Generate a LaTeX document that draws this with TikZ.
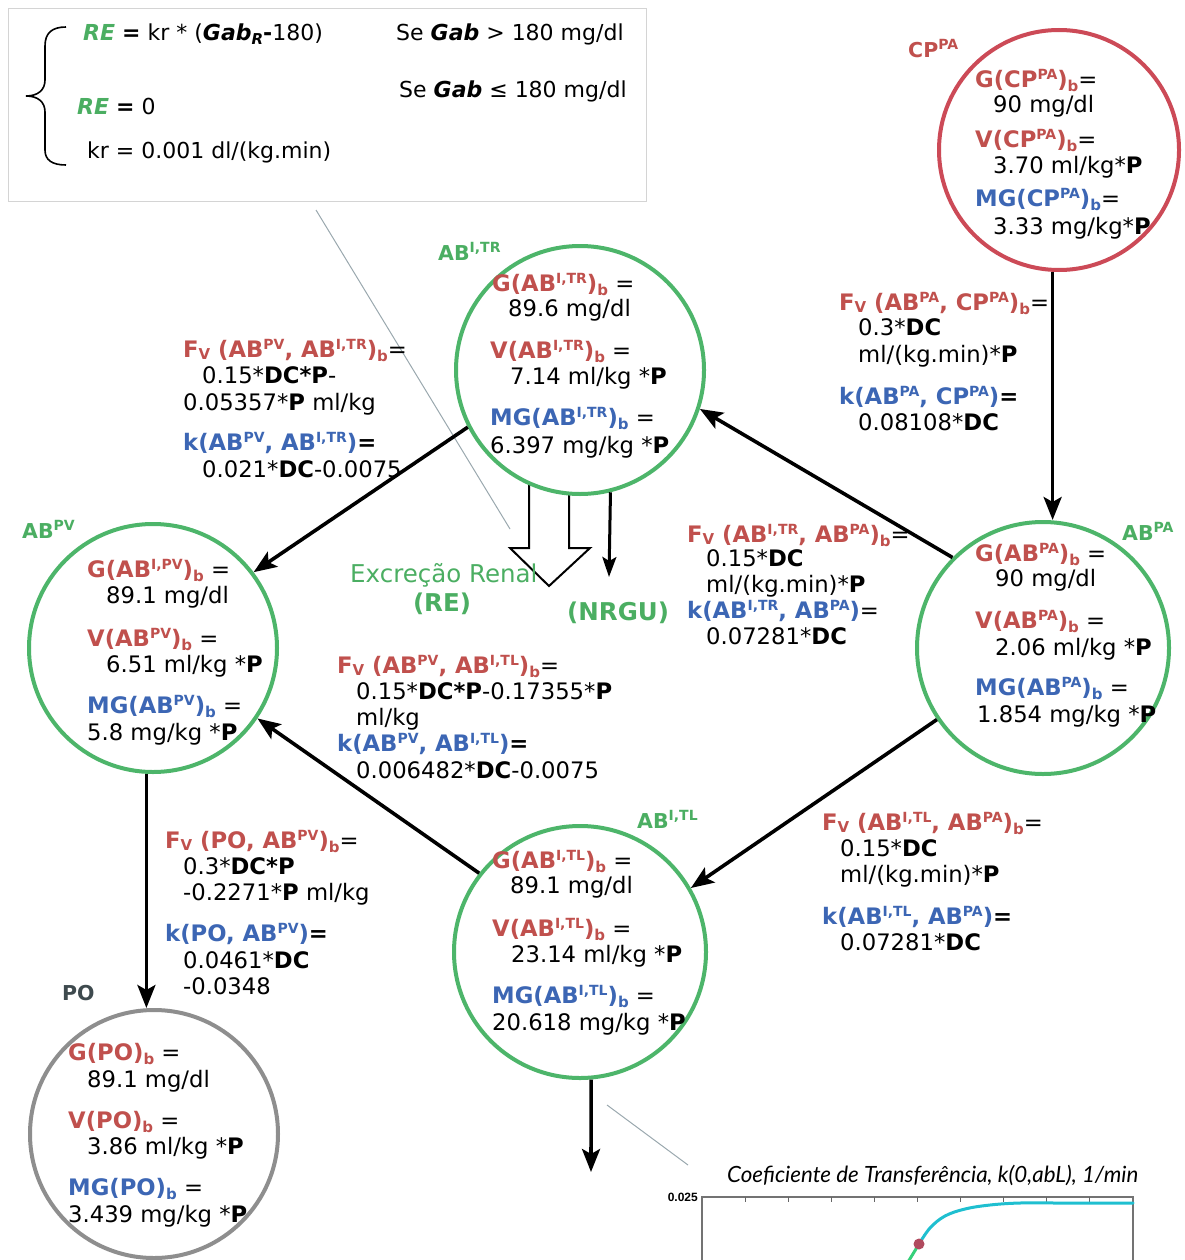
\documentclass[tikz,border=0pt]{standalone}
\usepackage{fontspec}
\setmainfont{DejaVu Sans}
\newfontfamily\chartfont{Lato}
\newfontfamily\axisfont{Liberation Sans}
\usetikzlibrary{arrows.meta}

\definecolor{rd}{HTML}{C0504D}
\definecolor{bl}{HTML}{3C66B4}
\definecolor{gn}{HTML}{4BAE62}
\definecolor{ringG}{HTML}{4DB56A}
\definecolor{ringR}{HTML}{CC4A57}
\definecolor{ringP}{HTML}{8E8E8E}
\definecolor{poLab}{HTML}{3E4A4E}
\definecolor{lead}{HTML}{9AA8AE}
\definecolor{boxgray}{HTML}{D4D4D4}
\definecolor{curveC}{HTML}{1FBFD0}
\definecolor{curveG}{HTML}{35D07A}
\definecolor{dotR}{HTML}{B04A5E}

% superscript / subscript / flow symbol
\newcommand{\supx}[1]{\raisebox{8pt}{\fontsize{14}{14}\selectfont #1}}
\newcommand{\subx}[1]{\raisebox{-4pt}{\fontsize{15}{15}\selectfont #1}}
\newcommand{\FV}{F\raisebox{-2pt}{\fontsize{15}{15}\selectfont V}}
\newcommand{\redb}[1]{{\color{rd}\bfseries #1}}
\newcommand{\blub}[1]{{\color{bl}\bfseries #1}}

\tikzset{
  txt/.style={anchor=base west, inner sep=0pt, font=\fontsize{22.7}{26}\selectfont},
  boxtxt/.style={anchor=base west, inner sep=0pt, font=\fontsize{22}{26}\selectfont},
  outtxt/.style={anchor=base west, inner sep=0pt, text=gn, font=\fontsize{24.5}{28}\selectfont},
  lab/.style={anchor=base west, inner sep=0pt, font=\fontsize{20.5}{24}\selectfont\bfseries},
  ring/.style={circle, draw, line width=4pt, fill=white, inner sep=0pt},
  gring/.style={ring, draw=ringG},
  arr/.style={line width=3.6pt, -{Stealth[length=23pt,width=18pt,inset=5pt]}},
  thinarr/.style={line width=3pt, -{Stealth[length=20pt,width=14pt,inset=4pt]}},
  leader/.style={draw=lead, line width=1pt},
  hollow/.style={draw=black, line width=2pt, fill=white, line join=miter},
}

\begin{document}
\begin{tikzpicture}[x=1pt,y=-1pt]
\useasboundingbox (0,0) rectangle (1184,1260);

% ---- condition box for renal excretion
\node[draw=boxgray, line width=1.2pt, anchor=north west, minimum width=638pt, minimum height=193pt, inner sep=0pt] (cbox) at (8,8) {};
\draw[line width=1.6pt] (66,27) .. controls (52,27) and (45,33) .. (45,46) -- (45,80)
  .. controls (45,90) and (38,96) .. (26,96) .. controls (38,96) and (45,102) .. (45,112)
  -- (45,150) .. controls (45,160) and (52,165) .. (66,165);
\node[boxtxt] (re1) at (83,41) {{\color{gn}\bfseries\itshape RE} \textbf{=} kr * (\textbf{\itshape Gab}\subx{\bfseries\itshape R}\textbf{-}180)};
\node[boxtxt] (se1) at (396,41) {Se \textbf{\itshape Gab} > 180 mg/dl};
\node[boxtxt] (se2) at (399,98) {Se \textbf{\itshape Gab} ≤ 180 mg/dl};
\node[boxtxt] (re2) at (77,115) {{\color{gn}\bfseries\itshape RE} \textbf{=} 0};
\node[boxtxt] (kr) at (87,159) {kr = 0.001 dl/(kg.min)};

% ---- leader lines
\coordinate (ldA) at (316,210);
\coordinate (ldB) at (510,529);
\coordinate (ldC) at (607,1105);
\coordinate (ldD) at (688,1165);
\draw[leader] (ldA) -- (ldB);
\draw[leader] (ldC) -- (ldD);

% ---- renal excretion (hollow arrow)
\draw[hollow] (529,470) -- (529,548) -- (510,548) -- (549,586) -- (590,548) -- (569,548) -- (569,470);

% ---- compartments
\node[ring, draw=ringR, minimum size=240pt] (cp) at (1059,150) {};
\node[gring, minimum size=248pt] (tr) at (580,370) {};
\node[gring, minimum size=248pt] (pv) at (153,648) {};
\node[gring, minimum size=252pt] (pa) at (1043,648) {};
\node[gring, minimum size=252pt] (tl) at (580,952) {};
\node[ring, draw=ringP, minimum size=248pt] (po) at (154,1134) {};

% ---- flows
\coordinate (nrguEnd) at (609,577);
\coordinate (tlEnd) at (591,1172);
\draw[arr] (cp.-93.3) -- (cp.-93.3 |- pa.north);
\draw[arr] (pa.135) -- (tr.-18);
\draw[arr] (tr.207) -- (pv.37);
\draw[arr] (pa.214) -- (tl.30);
\draw[arr] (tl.142) -- (pv.-34);
\draw[arr] (pv.-93.6) -- (pv.-93.6 |- po.north);
\draw[arr] (tl.-85) -- (tlEnd);
\draw[thinarr] (tr.-76.8) -- (nrguEnd);

% ---- compartment names
\node[lab, text=rd] (cplab) at (908,58) {CP\supx{PA}};
\node[lab, text=gn] (trlab) at (438,260) {AB\supx{I,TR}};
\node[lab, text=gn] (pvlab) at (22,538) {AB\supx{PV}};
\node[lab, text=gn] (palab) at (1122,540) {AB\supx{PA}};
\node[lab, text=gn] (tllab) at (637,828) {AB\supx{I,TL}};
\node[lab, text=poLab] (polab) at (62,1000) {PO};

% ---- CP^PA contents
\node[txt] (cp1) at (975,88) {\redb{G(CP\supx{PA})\subx{b}}=};
\node[txt] (cp2) at (993,113) {90 mg/dl};
\node[txt] (cp3) at (975,148) {\redb{V(CP\supx{PA})\subx{b}}=};
\node[txt] (cp4) at (993,174) {3.70 ml/kg*\textbf{P}};
\node[txt] (cp5) at (975,207) {\blub{MG(CP\supx{PA})\subx{b}}=};
\node[txt] (cp6) at (993,234) {3.33 mg/kg*\textbf{P}};

% ---- AB^I,TR contents
\node[txt] (tr1) at (492,291) {\redb{G(AB\supx{I,TR})\subx{b}} =};
\node[txt] (tr2) at (508,316) {89.6 mg/dl};
\node[txt] (tr3) at (490,358) {\redb{V(AB\supx{I,TR})\subx{b}} =};
\node[txt] (tr4) at (510,384) {7.14 ml/kg *\textbf{P}};
\node[txt] (tr5) at (490,425) {\blub{MG(AB\supx{I,TR})\subx{b}} =};
\node[txt] (tr6) at (490,453) {6.397 mg/kg *\textbf{P}};

% ---- AB^PV contents
\node[txt] (pv1) at (87,577) {\redb{G(AB\supx{I,PV})\subx{b}} =};
\node[txt] (pv2) at (106,603) {89.1 mg/dl};
\node[txt] (pv3) at (87,646) {\redb{V(AB\supx{PV})\subx{b}} =};
\node[txt] (pv4) at (106,672) {6.51 ml/kg *\textbf{P}};
\node[txt] (pv5) at (87,713) {\blub{MG(AB\supx{PV})\subx{b}} =};
\node[txt] (pv6) at (87,740) {5.8 mg/kg *\textbf{P}};

% ---- AB^PA contents
\node[txt] (pa1) at (975,561) {\redb{G(AB\supx{PA})\subx{b}} =};
\node[txt] (pa2) at (995,586) {90 mg/dl};
\node[txt] (pa3) at (975,628) {\redb{V(AB\supx{PA})\subx{b}} =};
\node[txt] (pa4) at (995,655) {2.06 ml/kg *\textbf{P}};
\node[txt] (pa5) at (975,695) {\blub{MG(AB\supx{PA})\subx{b}} =};
\node[txt] (pa6) at (977,722) {1.854 mg/kg *\textbf{P}};

% ---- AB^I,TL contents
\node[txt] (tl1) at (492,868) {\redb{G(AB\supx{I,TL})\subx{b}} =};
\node[txt] (tl2) at (510,893) {89.1 mg/dl};
\node[txt] (tl3) at (492,936) {\redb{V(AB\supx{I,TL})\subx{b}} =};
\node[txt] (tl4) at (511,962) {23.14 ml/kg *\textbf{P}};
\node[txt] (tl5) at (492,1003) {\blub{MG(AB\supx{I,TL})\subx{b}} =};
\node[txt] (tl6) at (492,1030) {20.618 mg/kg *\textbf{P}};

% ---- PO contents
\node[txt] (po1) at (68,1060) {\redb{G(PO)\subx{b}} =};
\node[txt] (po2) at (87,1087) {89.1 mg/dl};
\node[txt] (po3) at (68,1128) {\redb{V(PO)\subx{b}} =};
\node[txt] (po4) at (87,1154) {3.86 ml/kg *\textbf{P}};
\node[txt] (po5) at (68,1195) {\blub{MG(PO)\subx{b}} =};
\node[txt] (po6) at (68,1222) {3.439 mg/kg *\textbf{P}};

% ---- flow parameters: AB^PV <- AB^I,TR
\node[txt] (a1) at (183,357) {\redb{\FV\ (AB\supx{PV}, AB\supx{I,TR})\subx{b}}=};
\node[txt] (a2) at (202,383) {0.15*\textbf{DC*P}-};
\node[txt] (a3) at (183,410) {0.05357*\textbf{P} ml/kg};
\node[txt] (a4) at (183,450) {\blub{k(AB\supx{PV}, AB\supx{I,TR})}\textbf{=}};
\node[txt] (a5) at (202,477) {0.021*\textbf{DC}-0.0075};

% ---- AB^PA <- CP^PA
\node[txt] (b1) at (839,310) {\redb{\FV\ (AB\supx{PA}, CP\supx{PA})\subx{b}}=};
\node[txt] (b2) at (858,335) {0.3*\textbf{DC}};
\node[txt] (b3) at (858,362) {ml/(kg.min)*\textbf{P}};
\node[txt] (b4) at (839,404) {\blub{k(AB\supx{PA}, CP\supx{PA})}\textbf{=}};
\node[txt] (b5) at (858,430) {0.08108*\textbf{DC}};

% ---- AB^I,TR <- AB^PA
\node[txt] (c1) at (687,542) {\redb{\FV\ (AB\supx{I,TR}, AB\supx{PA})\subx{b}}=};
\node[txt] (c2) at (706,566) {0.15*\textbf{DC}};
\node[txt] (c3) at (706,592) {ml/(kg.min)*\textbf{P}};
\node[txt] (c4) at (687,618) {\blub{k(AB\supx{I,TR}, AB\supx{PA})}=};
\node[txt] (c5) at (706,644) {0.07281*\textbf{DC}};

% ---- AB^PV <- AB^I,TL
\node[txt] (d1) at (337,673) {\redb{\FV\ (AB\supx{PV}, AB\supx{I,TL})\subx{b}}=};
\node[txt] (d2) at (356,699) {0.15*\textbf{DC*P}-0.17355*\textbf{P}};
\node[txt] (d3) at (356,725) {ml/kg};
\node[txt] (d4) at (337,751) {\blub{k(AB\supx{PV}, AB\supx{I,TL})}\textbf{=}};
\node[txt] (d5) at (356,778) {0.006482*\textbf{DC}-0.0075};

% ---- AB^I,TL <- AB^PA
\node[txt] (f1) at (822,830) {\redb{\FV\ (AB\supx{I,TL}, AB\supx{PA})\subx{b}}=};
\node[txt] (f2) at (840,856) {0.15*\textbf{DC}};
\node[txt] (f3) at (840,882) {ml/(kg.min)*\textbf{P}};
\node[txt] (f4) at (822,924) {\blub{k(AB\supx{I,TL}, AB\supx{PA})}\textbf{=}};
\node[txt] (f5) at (840,950) {0.07281*\textbf{DC}};

% ---- PO <- AB^PV
\node[txt] (g1) at (165,848) {\redb{\FV\ (PO, AB\supx{PV})\subx{b}}=};
\node[txt] (g2) at (183,874) {0.3*\textbf{DC*P}};
\node[txt] (g3) at (183,900) {-0.2271*\textbf{P} ml/kg};
\node[txt] (g4) at (165,941) {\blub{k(PO, AB\supx{PV})}\textbf{=}};
\node[txt] (g5) at (183,968) {0.0461*\textbf{DC}};
\node[txt] (g6) at (183,994) {-0.0348};

% ---- outflow labels
\node[outtxt] (renal) at (350,582) {Excreção Renal};
\node[outtxt, anchor=base, font=\fontsize{24.5}{28}\selectfont\bfseries] (rel) at (442,611) {(RE)};
\node[outtxt, font=\fontsize{24.5}{28}\selectfont\bfseries] (nrgu) at (567,620) {(NRGU)};

% ---- transfer coefficient chart
\node[anchor=base west, inner sep=0pt] (ctitle) at (727,1182)
  {\resizebox{411pt}{!}{\fontsize{20}{24}\chartfont\itshape Coeficiente de Transferência, k(0,abL), 1/min}};
\node[anchor=base east, inner sep=0pt, font=\fontsize{12}{14}\axisfont\bfseries] (ytop) at (698,1201) {0.025};
\draw[draw=black!55, line width=1.2pt] (702,1262) -- (702,1197) -- (1133,1197) -- (1133,1262);
\foreach \i in {1,...,9} \draw[black!60, line width=1pt] (702+43.1*\i,1197) -- ++(0,5);
\draw[curveG, line width=3pt] (908,1262) -- (919,1244);
\draw[curveC, line width=3pt, line cap=round] plot[smooth, tension=0.6] coordinates
  {(919,1244) (930,1228) (945,1216) (965,1209) (990,1205) (1020,1203) (1060,1203) (1133,1203)};
\fill[dotR] (919,1244) circle (5.5pt);
\end{tikzpicture}
\end{document}
